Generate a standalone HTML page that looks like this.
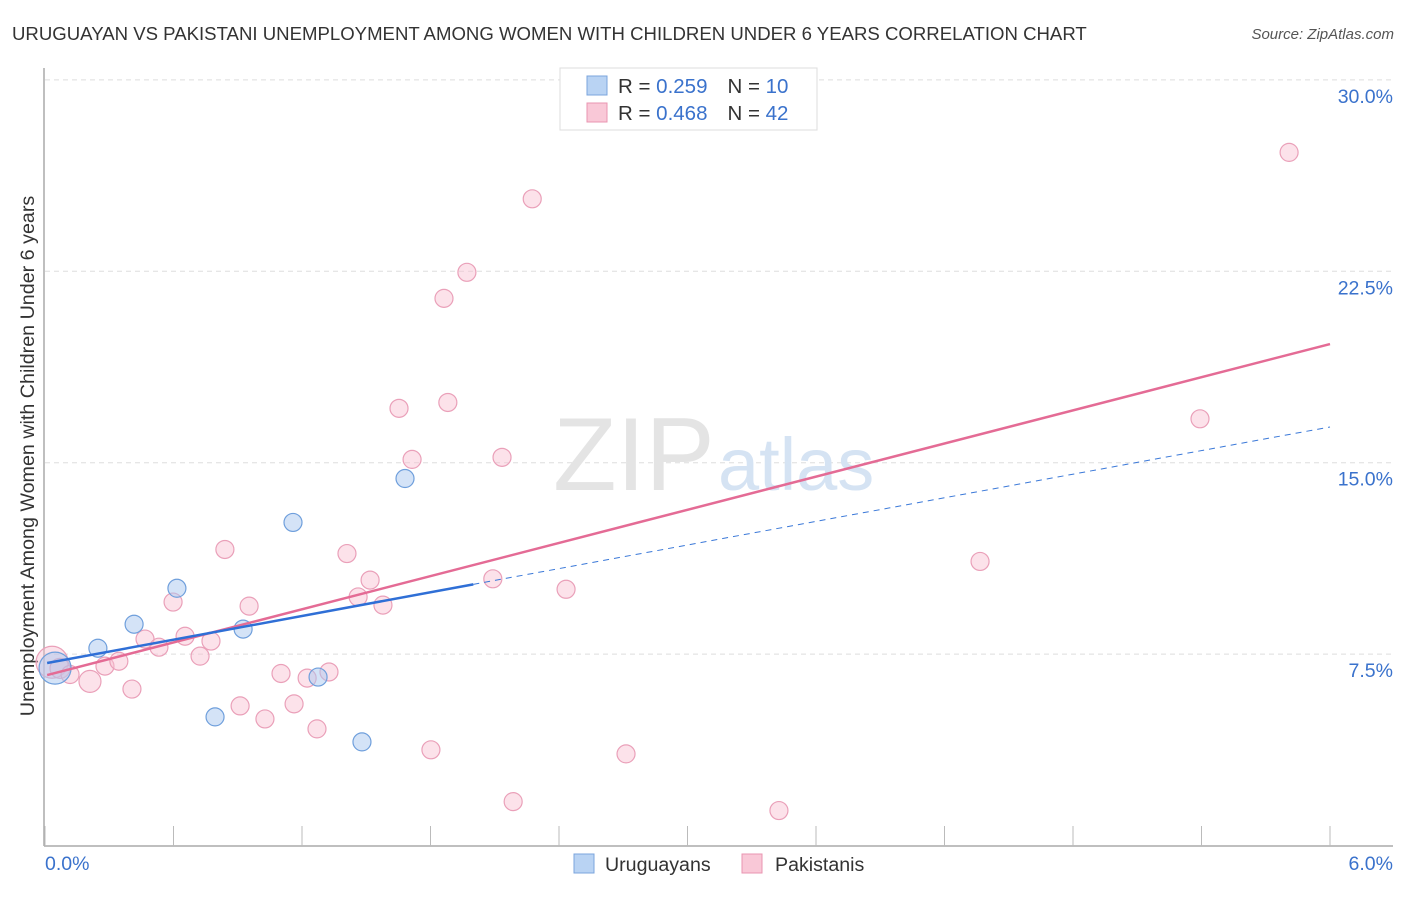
<!DOCTYPE html>
<html><head><meta charset="utf-8">
<style>
body{margin:0;background:#fff;font-family:"Liberation Sans",sans-serif;}
svg text{font-family:"Liberation Sans",sans-serif;}
</style></head>
<body>
<svg width="1406" height="892" viewBox="0 0 1406 892">
<text x="12" y="40" font-size="18.6" fill="#333">URUGUAYAN VS PAKISTANI UNEMPLOYMENT AMONG WOMEN WITH CHILDREN UNDER 6 YEARS CORRELATION CHART</text>
<text x="1394" y="39" font-size="15" fill="#555" font-style="italic" text-anchor="end">Source: ZipAtlas.com</text>
<g id="grid"></g>
<text x="553" y="490" font-size="104" fill="#e4e4e4" font-family="Liberation Serif">ZIP</text>
<text x="718" y="490" font-size="74" fill="#d5e3f3">atlas</text>
<line x1="44" y1="68" x2="44" y2="846" stroke="#aaa" stroke-width="1.5"/>
<line x1="44" y1="846" x2="1393" y2="846" stroke="#aaa" stroke-width="1.5"/>
<g id="xticks"></g>
<text x="34" y="456" font-size="19.7" fill="#333" text-anchor="middle" transform="rotate(-90 34 456)">Unemployment Among Women with Children Under 6 years</text>
<text x="45" y="870" font-size="19.5" fill="#3a72cc">0.0%</text>
<text x="1393" y="870" font-size="19.5" fill="#3a72cc" text-anchor="end">6.0%</text>
<g id="points"></g>
<g id="lines"></g>
<g>
<rect x="560" y="68" width="257" height="62" fill="#fff" stroke="#ddd"/>
<rect x="587" y="76" width="20" height="19" fill="#b9d3f3" stroke="#7ba4dc"/>
<rect x="587" y="103" width="20" height="19" fill="#f9c8d7" stroke="#e995b0"/>
<text x="618" y="93" font-size="20.5" fill="#333">R = <tspan fill="#3a72cc">0.259</tspan><tspan dx="20">N = </tspan><tspan fill="#3a72cc">10</tspan></text>
<text x="618" y="120" font-size="20.5" fill="#333">R = <tspan fill="#3a72cc">0.468</tspan><tspan dx="20">N = </tspan><tspan fill="#3a72cc">42</tspan></text>
</g>
<g>
<rect x="574" y="854" width="20" height="19" fill="#b9d3f3" stroke="#7ba4dc"/>
<text x="605" y="871" font-size="19.6" fill="#333">Uruguayans</text>
<rect x="742" y="854" width="20" height="19" fill="#f9c8d7" stroke="#e995b0"/>
<text x="775" y="871" font-size="19.6" fill="#333">Pakistanis</text>
</g>
</svg>
<script>
const yTicks=[7.5,15.0,22.5,30.0];
const xTickVals=[0,0.6,1.2,1.8,2.4,3.0,3.6,4.2,4.8,5.4,6.0];
const uruX=[0.047,0.247,0.416,0.616,0.794,0.925,1.158,1.275,1.480,1.681];
const uruY=[6.95,7.73,8.67,10.08,5.04,8.48,12.66,6.60,4.06,14.38];
const uruR=[16,9,9,9,9,9,9,9,9,9];
const pakX=[0.033,0.070,0.117,0.210,0.280,0.345,0.406,0.467,0.532,0.598,0.654,0.724,0.775,0.840,0.911,0.953,1.027,1.102,1.163,1.224,1.270,1.326,1.410,1.462,1.518,1.578,1.653,1.714,1.802,1.863,1.881,1.970,2.091,2.134,2.186,2.275,2.433,2.713,3.427,4.366,5.393,5.809];
const pakY=[7.18,6.94,6.70,6.43,7.03,7.22,6.13,8.09,7.77,9.54,8.20,7.42,8.01,11.60,5.47,9.38,4.96,6.74,5.55,6.56,4.57,6.80,11.44,9.74,10.40,9.42,17.13,15.13,3.75,21.44,17.36,22.46,10.45,15.21,1.72,25.34,10.04,3.59,1.37,11.13,16.72,27.16];
const pakR=[16,10,9,11,9,9,9,9,9,9,9,9,9,9,9,9,9,9,9,9,9,9,9,9,9,9,9,9,9,9,9,9,9,9,9,9,9,9,9,9,9,9];
const pakLine=[6.68,19.65];
const uruLine=[7.15,16.4];
const uruSolidEnd=2.0;
const sx=v=>45+v/6*1285;
const sy=v=>845.5-v*25.52;
const NS='http://www.w3.org/2000/svg';
function mk(t,a,p){const e=document.createElementNS(NS,t);for(const k in a)e.setAttribute(k,a[k]);p.appendChild(e);return e;}
const grid=document.getElementById('grid');
yTicks.forEach(v=>{
 const l=mk('line',{x1:45,x2:1393,y1:sy(v),y2:sy(v),stroke:'#ddd','stroke-dasharray':'5,4'},grid);
 
 
 const t=mk('text',{x:1393,y:sy(v)+23,'font-size':19.5,fill:'#3a72cc','text-anchor':'end'},grid);
 t.textContent=v.toFixed(1)+'%';
 
 
});
const xt=document.getElementById('xticks');
xTickVals.forEach(v=>{
 const l=mk('line',{x1:sx(v),x2:sx(v),y1:826,y2:846,stroke:'#bbb'},xt);
 
 
});
const pts=document.getElementById('points');
pakX.forEach((x,i)=>{
 const c=mk('circle',{cx:sx(x),cy:sy(pakY[i]),r:pakR[i],fill:'rgba(248,190,208,0.45)',stroke:'#eaa0b9','stroke-width':1.2},pts);
 
 
});
uruX.forEach((x,i)=>{
 const c=mk('circle',{cx:sx(x),cy:sy(uruY[i]),r:uruR[i],fill:'rgba(170,200,240,0.5)',stroke:'#6f9fdc','stroke-width':1.2},pts);
 
 
});
const ln=document.getElementById('lines');
const uy=x=>uruLine[0]+(uruLine[1]-uruLine[0])*x/6;
let a=mk('line',{x1:sx(uruSolidEnd),y1:sy(uy(uruSolidEnd)),x2:sx(6),y2:sy(uruLine[1]),stroke:'#3a78d8','stroke-width':1,'stroke-dasharray':'6,5'},ln);


a=mk('line',{x1:sx(0.01),y1:sy(pakLine[0]),x2:sx(6),y2:sy(pakLine[1]),stroke:'#e46b95','stroke-width':2.5},ln);


a=mk('line',{x1:sx(0.01),y1:sy(uruLine[0]),x2:sx(uruSolidEnd),y2:sy(uy(uruSolidEnd)),stroke:'#2f6fd6','stroke-width':2.5},ln);


</script>
</body></html>
